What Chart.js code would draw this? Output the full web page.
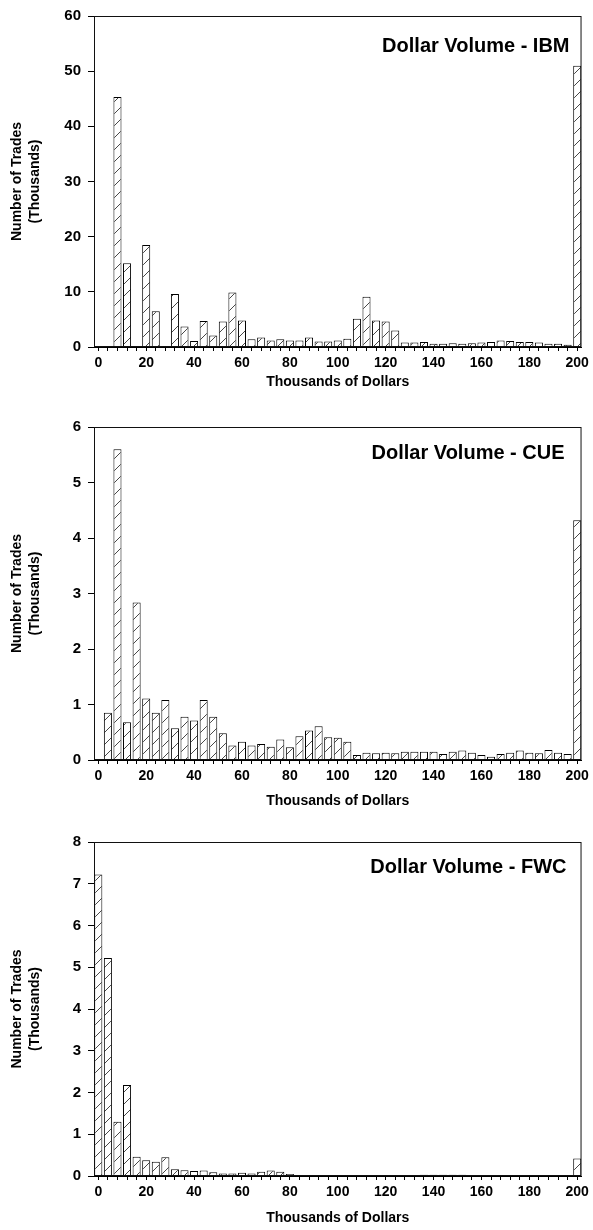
<!DOCTYPE html>
<html>
<head>
<meta charset="utf-8">
<script src="https://cdn.jsdelivr.net/npm/chart.js@4.4.1/dist/chart.umd.min.js"></script>
<style>
  body { margin: 0; background: #fff; width: 593px; height: 1230px; position: relative; overflow: hidden; }
  .box { position: absolute; left: 0; width: 593px; }
</style>
</head>
<body>
<div class="box" style="top:0;height:400px"><canvas id="chartIbm"></canvas></div>
<div class="box" style="top:405px;height:405px"><canvas id="chartCue"></canvas></div>
<div class="box" style="top:820px;height:410px"><canvas id="chartFwc"></canvas></div>
<script>
// bin positions, thousands of dollars
var bins = [0, 4, 8, 12, 16, 20, 24, 28, 32, 36, 40, 44, 48, 52, 56, 60, 64, 68, 72, 76,
            80, 84, 88, 92, 96, 100, 104, 108, 112, 116, 120, 124, 128, 132, 136, 140, 144, 148, 152, 156,
            160, 164, 168, 172, 176, 180, 184, 188, 192, 196, 200];

// number of trades (thousands)
var ibmTrades = [0, 0, 45.3, 15.2, 0, 18.5, 6.5, 0.2, 9.6, 3.7, 1.1, 4.7, 2.1, 4.6, 9.9, 4.8, 1.4, 1.7, 1.2, 1.4,
                 1.2, 1.2, 1.7, 1.0, 1.0, 1.2, 1.5, 5.1, 9.1, 4.8, 4.6, 3.0, 0.8, 0.8, 0.9, 0.6, 0.6, 0.7, 0.6, 0.7,
                 0.8, 0.9, 1.2, 1.1, 0.9, 0.9, 0.8, 0.6, 0.6, 0.4, 51.0];
var cueTrades = [0, 0.85, 5.6, 0.68, 2.84, 1.11, 0.85, 1.08, 0.57, 0.78, 0.71, 1.08, 0.78, 0.48, 0.26, 0.33, 0.26, 0.29, 0.24, 0.37,
                 0.23, 0.43, 0.53, 0.61, 0.41, 0.40, 0.33, 0.09, 0.13, 0.12, 0.13, 0.12, 0.15, 0.15, 0.15, 0.15, 0.11, 0.15, 0.17, 0.13,
                 0.09, 0.06, 0.11, 0.13, 0.17, 0.13, 0.12, 0.18, 0.13, 0.11, 4.32];
var fwcTrades = [7.22, 5.22, 1.30, 2.18, 0.46, 0.38, 0.34, 0.45, 0.16, 0.14, 0.12, 0.13, 0.09, 0.06, 0.06, 0.08, 0.06, 0.10, 0.13, 0.10,
                 0.05, 0.02, 0.02, 0.02, 0.02, 0.02, 0.02, 0.02, 0.02, 0.02, 0.02, 0.02, 0.02, 0.02, 0.03, 0.03, 0.03, 0.03, 0.03, 0.02,
                 0.02, 0.02, 0.02, 0.02, 0.02, 0.02, 0.02, 0.02, 0.02, 0.02, 0.42];

var titles = ["Dollar Volume - IBM", "Dollar Volume - CUE", "Dollar Volume - FWC"];
var yMax = [60, 6, 8];
var yStep = [10, 1, 1];

Chart.defaults.font.family = '"Liberation Sans", Arial, Helvetica, sans-serif';
Chart.defaults.font.weight = 'bold';
Chart.defaults.font.size = 14;
Chart.defaults.color = '#000';

function hatchFor(canvas) {
  var p = document.createElement('canvas');
  p.width = 12; p.height = 12;
  var g = p.getContext('2d');
  g.fillStyle = '#fff';
  g.fillRect(0, 0, 12, 12);
  g.strokeStyle = '#333';
  g.lineWidth = 0.9;
  g.beginPath();
  g.moveTo(0, 12); g.lineTo(12, 0);
  g.moveTo(-1, 1); g.lineTo(1, -1);
  g.moveTo(11, 13); g.lineTo(13, 11);
  g.stroke();
  return canvas.getContext('2d').createPattern(p, 'repeat');
}

// frame around the plot and the label in the top right corner
var framePlugin = {
  id: 'frame',
  afterDraw: function(chart, args, opts) {
    var a = chart.chartArea, c = chart.ctx;
    c.save();
    c.strokeStyle = '#111';
    c.lineWidth = 1;
    c.strokeRect(a.left + 0.5, a.top + 0.5, a.right - a.left - 1, a.bottom - a.top - 1);
    c.font = 'bold 20px "Liberation Sans", Arial, sans-serif';
    c.fillStyle = '#000';
    c.textAlign = 'right';
    c.textBaseline = 'middle';
    c.fillText(opts.text, a.right - opts.dx, a.top + opts.dy);
    c.restore();
  }
};

function makeChart(id, values, idx, lay) {
  var canvas = document.getElementById(id);
  var points = bins.map(function(b, i) { return {x: b, y: values[i]}; });
  return new Chart(canvas, {
    type: 'bar',
    data: {
      datasets: [{
        data: points,
        backgroundColor: hatchFor(canvas),
        borderColor: '#000',
        borderWidth: 1,
        barPercentage: 0.84,
        categoryPercentage: 1
      }]
    },
    options: {
      responsive: true,
      maintainAspectRatio: false,
      animation: false,
      layout: { padding: { top: lay.top, right: 11, left: 0, bottom: 0 } },
      plugins: {
        legend: { display: false },
        tooltip: { enabled: false },
        frame: { text: titles[idx], dx: lay.dx, dy: lay.dy }
      },
      scales: {
        x: {
          type: 'linear',
          offset: false,
          min: -1.8,
          max: 201.8,
          afterBuildTicks: function(s) { s.ticks = bins.map(function(b) { return {value: b}; }); },
          afterFit: function(s) { s.height = lay.xh; },
          ticks: {
            autoSkip: false,
            maxRotation: 0,
            padding: 4,
            callback: function(v) { return v % 20 === 0 ? v : ''; }
          },
          grid: { offset: false, drawOnChartArea: false, tickLength: 4, tickColor: '#000' },
          border: { color: '#000' },
          title: {
            display: true,
            text: 'Thousands of Dollars',
            font: { size: 14, weight: 'bold' },
            padding: { top: 0, bottom: lay.tb }
          }
        },
        y: {
          min: 0,
          max: yMax[idx],
          afterFit: function(s) { s.width = 94; },
          ticks: { stepSize: yStep[idx], padding: 7, font: { size: 15 } },
          grid: { drawOnChartArea: false, tickLength: 6, tickColor: '#000' },
          border: { color: '#000' },
          title: {
            display: true,
            text: ['Number of Trades', '(Thousands)'],
            font: { size: 14, weight: 'bold', lineHeight: 1.3 },
            padding: { top: 8, bottom: 0 }
          }
        }
      }
    },
    plugins: [framePlugin]
  });
}

makeChart('chartIbm', ibmTrades, 0, { top: 14, xh: 53, tb: 9, dx: 12, dy: 30 });
makeChart('chartCue', cueTrades, 1, { top: 22, xh: 50, tb: 0, dx: 17, dy: 26 });
makeChart('chartFwc', fwcTrades, 2, { top: 22, xh: 54, tb: 3, dx: 15, dy: 25 });
</script>
</body>
</html>
